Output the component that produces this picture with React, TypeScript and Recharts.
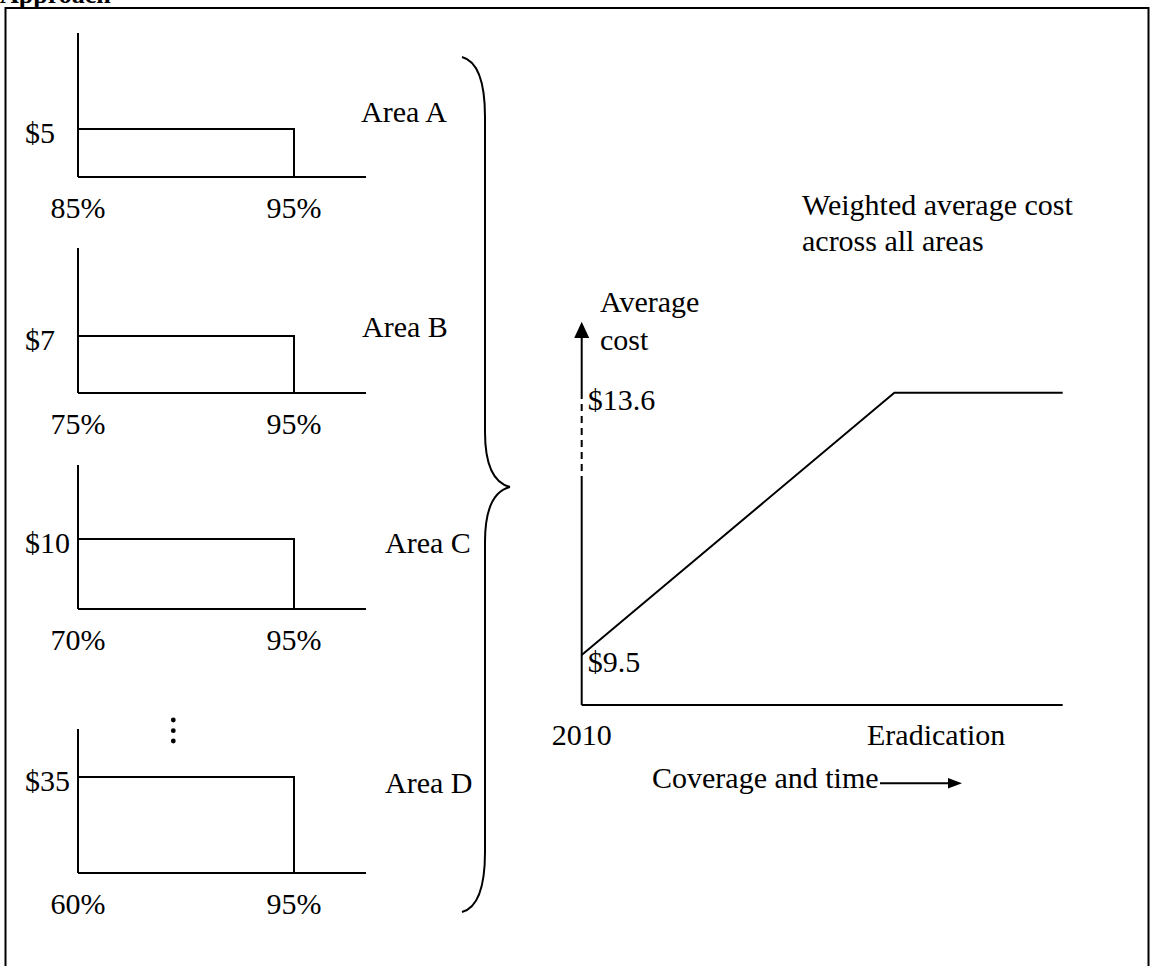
import React from 'react';
import { ComposedChart, Line, XAxis, YAxis, ReferenceLine, ReferenceDot } from 'recharts';

const FONT = "'Liberation Serif', 'Times New Roman', Times, serif";
const FS = 30;

// ---- Data: per-area cost panels ----
const areaNames = ['Area A', 'Area B', 'Area C', 'Area D'];
const areaCosts = [5, 7, 10, 35];
const areaStartCoverage = [85, 75, 70, 60];
const areaTargetCoverage = [95, 95, 95, 95];

// ---- Data: weighted average cost over coverage and time ----
const timePoints = [0, 65, 100];
const averageCosts = [9.5, 13.6, 13.6];
const timeTickValues = [0, 73.7];
const timeTickLabels = ['2010', 'Eradication'];
const avgCostTickValues = [9.5, 13.6];

// ---- Layout (page pixels) ----
const panelLayout = [
  { axisTop: 33, axisBottom: 177, barTop: 129, labelX: 361, labelBaseline: 122 },
  { axisTop: 248, axisBottom: 393, barTop: 336, labelX: 362, labelBaseline: 337 },
  { axisTop: 465, axisBottom: 609, barTop: 539, labelX: 385, labelBaseline: 553 },
  { axisTop: 729, axisBottom: 873, barTop: 777, labelX: 385, labelBaseline: 793 },
];
const PANEL_LEFT = 78;
const PANEL_RIGHT = 366;
const BAR_RIGHT = 294;

const STROKE = { stroke: '#000', strokeWidth: 2 };
const textStyle = { fontFamily: FONT, fontSize: FS };

function AreaPanel({ i }: { i: number }) {
  const L = panelLayout[i];
  const start = areaStartCoverage[i];
  const end = areaTargetCoverage[i];
  const cost = areaCosts[i];
  const data = [
    { x: start, y: cost },
    { x: end, y: cost },
    { x: end, y: 0 },
  ];
  const xMax = start + ((end - start) * (PANEL_RIGHT - PANEL_LEFT)) / (BAR_RIGHT - PANEL_LEFT);
  const yMax = (cost * (L.axisBottom - L.axisTop)) / (L.axisBottom - L.barTop);
  const topPad = 30;
  const botPad = 60;
  const W = 470;
  const H = L.axisBottom - L.axisTop + topPad + botPad;
  const axisY = H - botPad;
  return (
    <div style={{ position: 'absolute', left: 0, top: L.axisTop - topPad, width: W, height: H }}>
      <ComposedChart
        width={W}
        height={H}
        data={data}
        margin={{ left: PANEL_LEFT - 1, top: topPad, right: W - PANEL_RIGHT, bottom: botPad - 1 }}
      >
        <XAxis
          type="number"
          dataKey="x"
          domain={[start, xMax]}
          ticks={[start, end]}
          interval={0}
          height={1}
          axisLine={STROKE}
          tickLine={false}
          tick={(p: any) => (
            <text x={p.x} y={axisY + 41} textAnchor="middle" style={textStyle} fill="#000">
              {p.payload.value + '%'}
            </text>
          )}
        />
        <YAxis
          type="number"
          domain={[0, yMax]}
          ticks={[cost]}
          interval={0}
          width={1}
          axisLine={STROKE}
          tickLine={false}
          tick={(p: any) => (
            <text x={25} y={p.y + 14} textAnchor="start" style={textStyle} fill="#000">
              {'$' + p.payload.value}
            </text>
          )}
        />
        <Line
          dataKey="y"
          type="linear"
          stroke="#000"
          strokeWidth={2}
          dot={false}
          activeDot={false}
          isAnimationActive={false}
        />
      </ComposedChart>
    </div>
  );
}

// Right chart layout
const RC = { left: 500, top: 280, width: 620, height: 520 };
const RC_PLOT = { left: 581.7, top: 321.7, right: 1062.7, bottom: 705 };
const Y_DOMAIN: [number, number] = [8.72, 14.71];
const Y_BREAK_LOW = 12.19;
const Y_BREAK_HIGH = 13.61;
const Y_ARROW_BASE = 14.47;

function AverageChart() {
  const data = timePoints.map((t, k) => ({ t, cost: averageCosts[k] }));
  const margin = {
    left: RC_PLOT.left - RC.left - 1,
    top: RC_PLOT.top - RC.top,
    right: RC.width - (RC_PLOT.right - RC.left),
    bottom: RC.height - (RC_PLOT.bottom - RC.top) - 1,
  };
  const axisY = RC_PLOT.bottom - RC.top;
  const axisX = RC_PLOT.left - RC.left;
  return (
    <div style={{ position: 'absolute', left: RC.left, top: RC.top, width: RC.width, height: RC.height }}>
      <ComposedChart width={RC.width} height={RC.height} data={data} margin={margin}>
        <XAxis
          type="number"
          dataKey="t"
          domain={[0, 100]}
          ticks={timeTickValues}
          interval={0}
          height={1}
          axisLine={STROKE}
          tickLine={false}
          tick={(p: any) => (
            <text x={p.x} y={axisY + 40} textAnchor="middle" style={textStyle} fill="#000">
              {timeTickLabels[timeTickValues.indexOf(p.payload.value)]}
            </text>
          )}
        />
        <YAxis
          type="number"
          domain={Y_DOMAIN}
          ticks={avgCostTickValues}
          interval={0}
          width={1}
          axisLine={false}
          tickLine={false}
          tick={(p: any) => (
            <text x={axisX + 6} y={p.y + 17} textAnchor="start" style={textStyle} fill="#000">
              {'$' + p.payload.value}
            </text>
          )}
        />
        <ReferenceLine
          segment={[{ x: 0, y: Y_DOMAIN[0] }, { x: 0, y: Y_BREAK_LOW }]}
          stroke="#000"
          strokeWidth={2}
        />
        <ReferenceLine
          segment={[{ x: 0, y: Y_BREAK_LOW }, { x: 0, y: Y_BREAK_HIGH }]}
          stroke="#000"
          strokeWidth={2}
          strokeDasharray="7 5"
        />
        <ReferenceLine
          segment={[{ x: 0, y: Y_BREAK_HIGH }, { x: 0, y: Y_ARROW_BASE }]}
          stroke="#000"
          strokeWidth={2}
        />
        <ReferenceDot
          x={0}
          y={Y_ARROW_BASE}
          r={1}
          shape={(p: any) => (
            <path d={`M${p.cx - 7.5},${p.cy + 1} L${p.cx},${p.cy - 15.3} L${p.cx + 7.5},${p.cy + 1} Z`} fill="#000" />
          )}
        />
        <Line
          dataKey="cost"
          type="linear"
          stroke="#000"
          strokeWidth={2}
          dot={false}
          activeDot={false}
          isAnimationActive={false}
        />
      </ComposedChart>
    </div>
  );
}

const BRACE_TOP = 57;
const BRACE_TIP = 487;
const BRACE_BOTTOM = 912;

function Overlay() {
  const t = { style: textStyle, fill: '#000' };
  const upper = `M462,${BRACE_TOP} C477,${BRACE_TOP + 4} 485,${BRACE_TOP + 25} 485,${BRACE_TOP + 60} L485,${BRACE_TIP - 55} C485,${BRACE_TIP - 22} 494,${BRACE_TIP - 4} 510,${BRACE_TIP}`;
  const lower = `M510,${BRACE_TIP} C494,${BRACE_TIP + 4} 485,${BRACE_TIP + 22} 485,${BRACE_TIP + 55} L485,${BRACE_BOTTOM - 60} C485,${BRACE_BOTTOM - 25} 477,${BRACE_BOTTOM - 4} 462,${BRACE_BOTTOM}`;
  return (
    <svg
      width={1151}
      height={966}
      style={{ position: 'absolute', left: 0, top: 0, pointerEvents: 'none' }}
    >
      <text x={0} y={2.5} style={{ fontFamily: FONT, fontSize: 26, fontWeight: 'bold' }} fill="#000">Approach</text>
      <path d="M5.5,1000 L5.5,8 L1148.5,8 L1148.5,1000" fill="none" stroke="#000" strokeWidth={2} />
      {areaNames.map((name, i) => (
        <text key={name} x={panelLayout[i].labelX} y={panelLayout[i].labelBaseline} {...t}>{name}</text>
      ))}
      <path d={upper} fill="none" stroke="#000" strokeWidth={2} />
      <path d={lower} fill="none" stroke="#000" strokeWidth={2} />
      <circle cx={173.3} cy={720} r={2.4} fill="#000" />
      <circle cx={173.3} cy={730.7} r={2.4} fill="#000" />
      <circle cx={173.3} cy={741} r={2.4} fill="#000" />
      <text x={802} y={215} {...t}>Weighted average cost</text>
      <text x={802} y={251} {...t}>across all areas</text>
      <text x={600} y={312} {...t}>Average</text>
      <text x={600} y={350} {...t}>cost</text>
      <text x={652} y={788} {...t}>Coverage and time</text>
      <line x1={880} y1={783.3} x2={950} y2={783.3} stroke="#000" strokeWidth={2} />
      <path d="M948,778 L962,783.3 L948,788.6 Z" fill="#000" />
    </svg>
  );
}

export default function App() {
  return (
    <div style={{ position: 'absolute', left: 0, top: 0, width: 1151, height: 966, background: '#fff', overflow: 'hidden' }}>
      {panelLayout.map((_, i) => (
        <AreaPanel key={i} i={i} />
      ))}
      <AverageChart />
      <Overlay />
    </div>
  );
}
